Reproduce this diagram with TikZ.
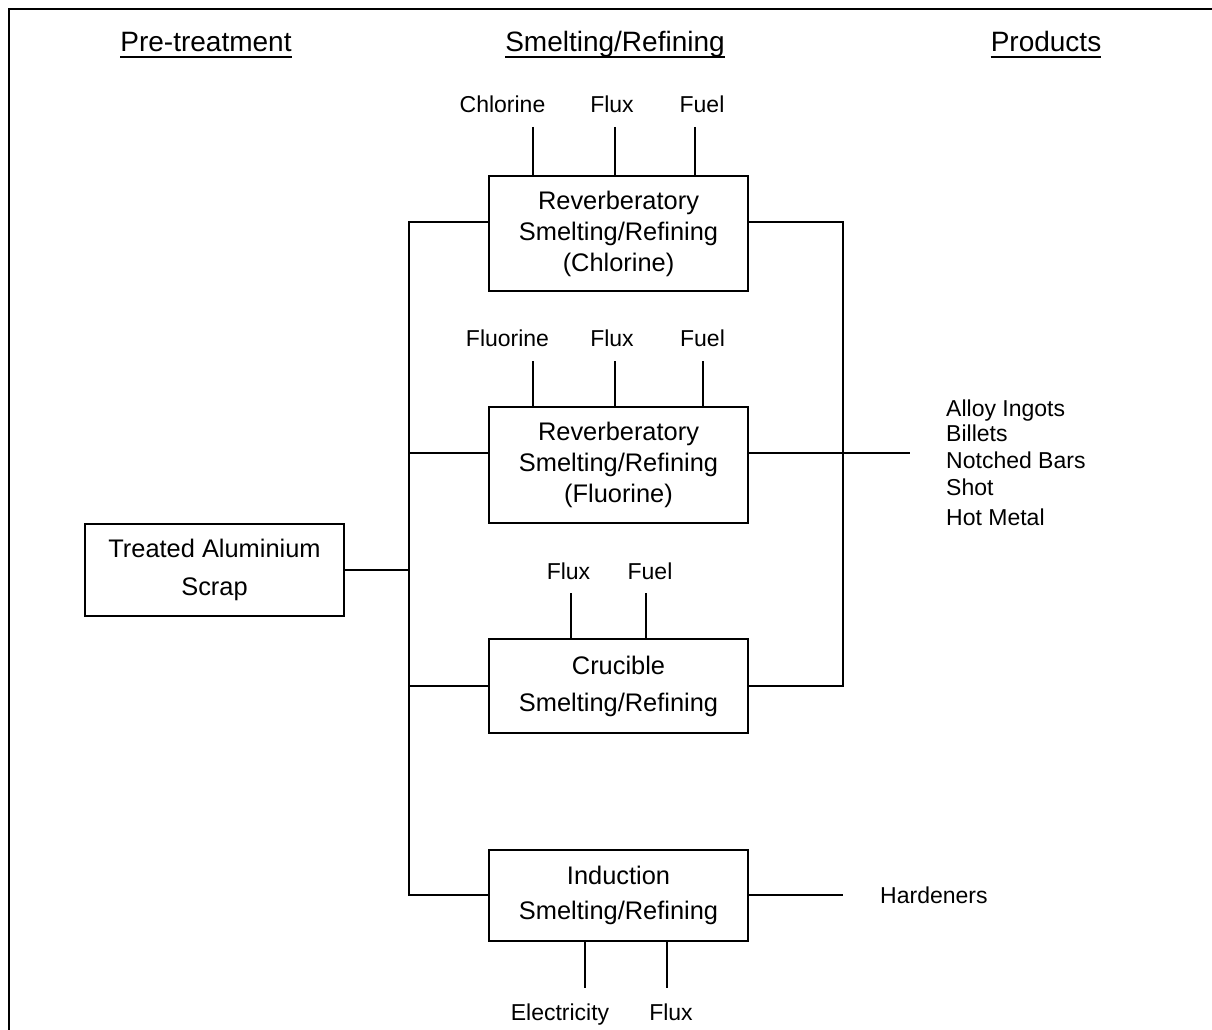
\documentclass[tikz,border=0pt]{standalone}
\usepackage{fontspec}
\setmainfont{Liberation Sans}
\begin{document}
\begin{tikzpicture}[x=1pt,y=-1pt,
  ln/.style={line width=1.6pt},
  box/.style={draw,line width=1.6pt,inner sep=0pt,align=center,minimum width=259pt,
    font=\fontsize{25.4}{31}\selectfont},
  lab/.style={inner sep=0pt,anchor=base,font=\fontsize{23}{28}\selectfont},
  prod/.style={inner sep=0pt,anchor=base west,font=\fontsize{23}{28}\selectfont},
  head/.style={inner sep=0pt,anchor=base,font=\fontsize{28}{34}\selectfont}]
\useasboundingbox (0,0) rectangle (1212,1030);
% frame
\draw[line width=1.8pt] (9,1030) -- (9,9) -- (1212,9);
% headers
\node[head] (h1) at (206,52) {Pre-treatment};
\node[head] (h2) at (615,52) {Smelting/Refining};
\node[head] (h3) at (1046,52) {Products};
\foreach \h in {h1,h2,h3}
  \draw[line width=2pt] ([yshift=-5pt]\h.base west) -- ([yshift=-5pt]\h.base east);
% boxes
\node[box,minimum height=115pt] (r1) at (618.5,233.5) {Reverberatory\\Smelting/Refining\\(Chlorine)};
\node[box,minimum height=116pt] (r2) at (618.5,465) {Reverberatory\\Smelting/Refining\\(Fluorine)};
\node[box,minimum height=94pt,font=\fontsize{25.4}{37}\selectfont] (r3) at (618.5,686) {Crucible\\Smelting/Refining};
\node[box,minimum height=91pt,font=\fontsize{25.4}{35}\selectfont] (r4) at (618.5,895.5) {Induction\\Smelting/Refining};
\node[box,minimum height=92pt,font=\fontsize{25.4}{38}\selectfont] (ts) at (214.5,570) {Treated Aluminium\\Scrap};
% input labels
\node[lab] (l11) at (502.5,113) {Chlorine};
\node[lab] (l12) at (612,113) {Flux};
\node[lab] (l13) at (702,113) {Fuel};
\node[lab] (l21) at (507.5,346) {Fluorine};
\node[lab] (l22) at (612,346) {Flux};
\node[lab] (l23) at (702.5,346) {Fuel};
\node[lab] (l31) at (568.5,579) {Flux};
\node[lab] (l32) at (650,579) {Fuel};
\node[lab] (l41) at (560,1020) {Electricity};
\node[lab] (l42) at (671,1020) {Flux};
% input line ends
\coordinate (i11) at (533,127);
\coordinate (i12) at (615,127);
\coordinate (i13) at (695,127);
\coordinate (i21) at (533,361);
\coordinate (i22) at (615,361);
\coordinate (i23) at (703,361);
\coordinate (i31) at (571,593);
\coordinate (i32) at (646,593);
\coordinate (i41) at (585,988);
\coordinate (i42) at (667,988);
\foreach \c/\b in {i11/r1,i12/r1,i13/r1,i21/r2,i22/r2,i23/r2,i31/r3,i32/r3}
  \draw[ln] (\c) -- (\c |- \b.north);
\foreach \c in {i41,i42}
  \draw[ln] (\c |- r4.south) -- (\c);
% left bus
\coordinate (bl1) at (409,222);
\coordinate (bl2) at (409,453);
\coordinate (blt) at (409,570);
\coordinate (bl3) at (409,686);
\coordinate (bl4) at (409,895);
\draw[ln] (r1.west |- bl1) -- (bl1) -- (bl4) -- (r4.west |- bl4);
\draw[ln] (r2.west |- bl2) -- (bl2);
\draw[ln] (r3.west |- bl3) -- (bl3);
\draw[ln] (ts.east |- blt) -- (blt);
% right bus
\coordinate (br1) at (843,222);
\coordinate (br3) at (843,686);
\coordinate (po) at (910,453);
\coordinate (ho) at (843,895);
\draw[ln] (r1.east |- br1) -- (br1) -- (br3) -- (r3.east |- br3);
\draw[ln] (r2.east |- po) -- (po);
\draw[ln] (r4.east |- ho) -- (ho);
% products
\node[prod] (p1) at (946,416) {Alloy Ingots};
\node[prod] (p2) at (946,441) {Billets};
\node[prod] (p3) at (946,468) {Notched Bars};
\node[prod] (p4) at (946,495) {Shot};
\node[prod] (p5) at (946,525) {Hot Metal};
\node[prod] (hd) at (880,903) {Hardeners};
\end{tikzpicture}
\end{document}
